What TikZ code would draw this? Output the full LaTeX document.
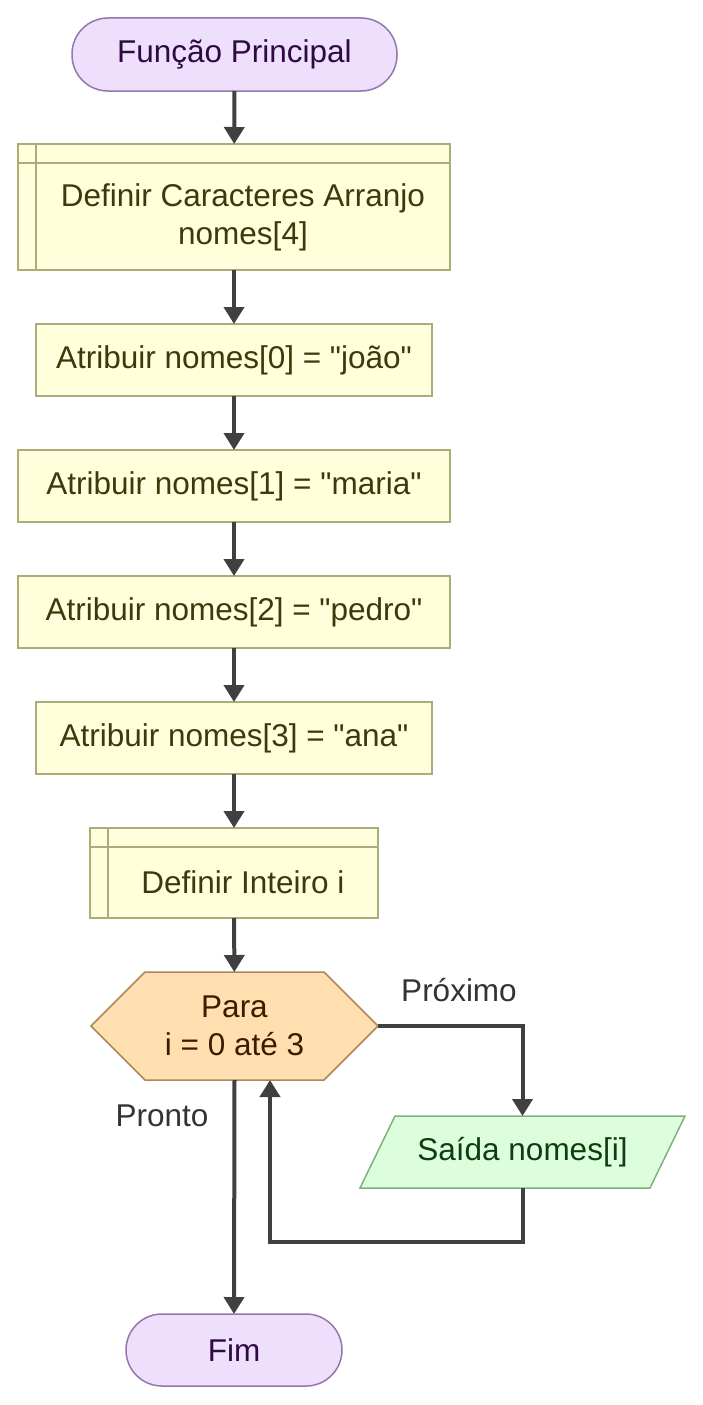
\documentclass[tikz,border=0pt]{standalone}
\usepackage{fontspec}
\setmainfont{Liberation Sans}[Ligatures=TeXOff]
\usetikzlibrary{arrows.meta}
\definecolor{termfill}{HTML}{EEDFFD}
\definecolor{termdraw}{HTML}{9676AE}
\definecolor{termtext}{HTML}{2E0A40}
\definecolor{procfill}{HTML}{FFFFDC}
\definecolor{procdraw}{HTML}{ABAB7C}
\definecolor{proctext}{HTML}{3A3A0C}
\definecolor{hexfill}{HTML}{FFDFB0}
\definecolor{hexdraw}{HTML}{A8885C}
\definecolor{hextext}{HTML}{3C1C00}
\definecolor{iofill}{HTML}{DCFEDC}
\definecolor{iodraw}{HTML}{80B080}
\definecolor{iotext}{HTML}{0E3E0E}
\definecolor{arrowcol}{HTML}{404040}
\definecolor{labelcol}{HTML}{333333}
\begin{document}
\begin{tikzpicture}[x=1pt,y=-1pt,
  every node/.style={font=\fontsize{31.5}{38}\selectfont, inner sep=0pt, outer sep=0pt},
  term/.style={draw=termdraw, fill=termfill, text=termtext, line width=1.5pt, rounded corners=36pt},
  proc/.style={draw=procdraw, fill=procfill, text=proctext, line width=1.5pt},
  subline/.style={draw=procdraw, line width=1.5pt},
  txt/.style={align=center},
  flow/.style={draw=arrowcol, line width=4pt, -{Triangle[width=20pt,length=17pt]}},
  lbl/.style={text=labelcol}
]
\useasboundingbox (0,0) rectangle (703,1405);

% start
\node[term, minimum width=325, minimum height=73] (start) at (234.5,54.5) {Função Principal};

% subroutine 1
\node[proc, minimum width=432, minimum height=126] (def1) at (234,207) {};
\draw[subline] ([xshift=18pt]def1.north west) -- ([xshift=18pt]def1.south west);
\draw[subline] ([yshift=-19pt]def1.north west) -- ([yshift=-19pt]def1.north east);
\node[txt, text=proctext] (def1t) at (243,217) {Definir Caracteres Arranjo\\nomes[4]};

% assignments
\node[proc, minimum width=396, minimum height=72] (a0) at (234,360) {Atribuir nomes[0] = "joão"};
\node[proc, minimum width=432, minimum height=72] (a1) at (234,486) {Atribuir nomes[1] = "maria"};
\node[proc, minimum width=432, minimum height=72] (a2) at (234,612) {Atribuir nomes[2] = "pedro"};
\node[proc, minimum width=396, minimum height=72] (a3) at (234,738) {Atribuir nomes[3] = "ana"};

% subroutine 2
\node[proc, minimum width=288, minimum height=90] (def2) at (234,873) {};
\draw[subline] ([xshift=18pt]def2.north west) -- ([xshift=18pt]def2.south west);
\draw[subline] ([yshift=-19pt]def2.north west) -- ([yshift=-19pt]def2.north east);
\node[txt, text=proctext] (def2t) at (243,882.5) {Definir Inteiro i};

% hexagon
\draw[draw=hexdraw, fill=hexfill, line width=1.5pt]
  (91,1026) -- (145,972) -- (324,972) -- (378,1026) -- (324,1080) -- (145,1080) -- cycle;
\node[minimum width=287, minimum height=108, txt, text=hextext] (hex) at (234.5,1026) {Para\\i = 0 até 3};

% parallelogram
\draw[draw=iodraw, fill=iofill, line width=1.5pt]
  (395,1116) -- (685,1116) -- (650,1188) -- (360,1188) -- cycle;
\node[minimum width=290, minimum height=72, text=iotext] (out) at (522.5,1152) {Saída nomes[i]};

% end
\node[term, minimum width=216, minimum height=72] (fim) at (234,1350) {Fim};

% connectors
\draw[flow] (start) -- (def1);
\draw[flow] (def1) -- (a0);
\draw[flow] (a0) -- (a1);
\draw[flow] (a1) -- (a2);
\draw[flow] (a2) -- (a3);
\draw[flow] (a3) -- (def2);
\draw[flow] (def2) -- (hex);
\draw[flow] (hex.east) -| (out.north);
\coordinate (loopc) at (270,1242);
\draw[flow] (out.south) |- (loopc) -- ([xshift=35.5pt]hex.south);
\draw[flow] (hex.south) -- (fim.north);

% labels
\node[lbl] (prox) at (459,990) {Próximo};
\node[lbl] (pronto) at (162,1116) {Pronto};
\end{tikzpicture}
\end{document}
